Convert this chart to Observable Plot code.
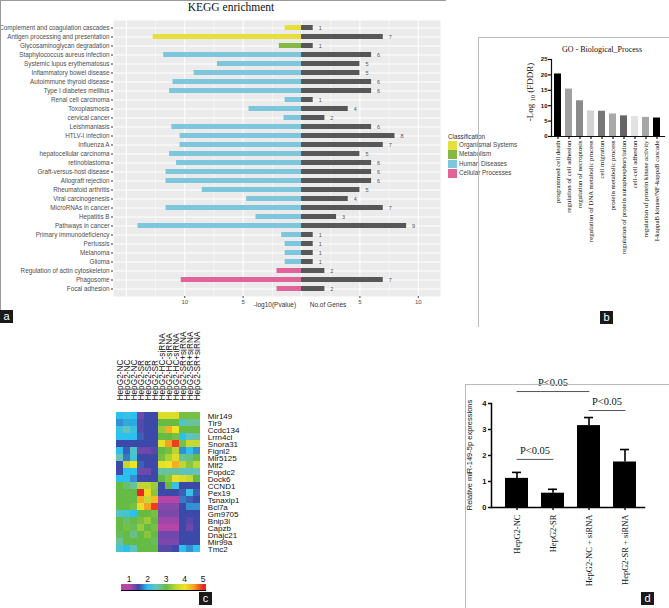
<!DOCTYPE html>
<html><head><meta charset="utf-8">
<script src="https://cdn.jsdelivr.net/npm/d3@7"></script>
<script src="https://cdn.jsdelivr.net/npm/@observablehq/plot@0.6"></script>
<style>
body{margin:0;background:#fff;}
#fig{position:relative;width:669px;height:608px;overflow:hidden;font-family:Arial,"Liberation Sans",sans-serif;background:#fff;}
.abs{position:absolute;white-space:nowrap;}
.lab{position:absolute;background:#1a1a1a;color:#fff;font:11px Arial,"Liberation Sans",sans-serif;width:13px;height:13px;line-height:12px;text-align:center;}
.rot{position:absolute;white-space:nowrap;transform:translate(-50%,-50%) rotate(-90deg);}
</style></head><body><div id="fig"></div>
<script>
// ---------- Panel a: KEGG enrichment ----------
const keggTerms = ["Complement and coagulation cascades","Antigen processing and presentation","Glycosaminoglycan degradation","Staphylococcus aureus infection","Systemic lupus erythematosus","Inflammatory bowel disease","Autoimmune thyroid disease","Type I diabetes mellitus","Renal cell carcinoma","Toxoplasmosis","cervical cancer","Leishmaniasis","HTLV-I infection","Influenza A","hepatocellular carcinoma","retinoblastoma","Graft-versus-host disease","Allograft rejection","Rheumatoid arthritis","Viral carcinogenesis","MicroRNAs in cancer","Hepatitis B","Pathways in cancer","Primary immunodeficiency","Pertussis","Melanoma","Glioma","Regulation of actin cytoskeleton","Phagosome","Focal adhesion"];
const keggClass = ["Organismal Systems","Organismal Systems","Metabolism","Human Diseases","Human Diseases","Human Diseases","Human Diseases","Human Diseases","Human Diseases","Human Diseases","Human Diseases","Human Diseases","Human Diseases","Human Diseases","Human Diseases","Human Diseases","Human Diseases","Human Diseases","Human Diseases","Human Diseases","Human Diseases","Human Diseases","Human Diseases","Human Diseases","Human Diseases","Human Diseases","Human Diseases","Cellular Processes","Cellular Processes","Cellular Processes"];
const keggLogP = [1.4,12.7,1.9,11.8,7.2,9.2,11.0,11.3,1.4,4.5,1.5,11.1,10.4,10.4,11.3,10.7,11.6,11.6,8.5,4.7,11.6,3.9,14.0,1.7,1.4,1.4,1.4,2.1,10.3,2.1];
const keggGenes = [1,7,1,6,5,5,6,6,1,4,2,6,8,7,5,6,6,6,5,4,7,3,9,1,1,1,1,2,7,2];
const classNames = ["Organismal Systems","Metabolism","Human Diseases","Cellular Processes"];
const classColors = ["#e6e03c","#86b943","#7ec6db","#e0649a"];
const keggMajorTicks = [-15,-10,-5,0,5,10];
const keggMinorTicks = [-12.5,-7.5,-2.5,2.5,7.5];
const keggTickLabels = [-10,-5,5,10];

// ---------- Panel b: GO Biological Process ----------
const goTerms = ["programmed cell death","regulation of cell adhesion","regulation of necroptosis","regulation of DNA metabolic process","cell migration","protein metabolic process","regulation of protein autophosphorylation","cell-cell adhesion","regulation of protein kinase activity","I-kappaB kinase/NF-kappaB cascade"];
const goValues = [20.3,15.4,11.6,8.3,8.2,7.3,6.7,6.5,6.2,6.0];
const goColors = ["#000000","#a0a0a0","#8a8a8a","#d2d2d2","#777777","#a9a9a9","#646464","#e2e2e2","#a6a6a6","#000000"];
const goTicks = [0,5,10,15,20,25];

// ---------- Panel c: heatmap ----------
const heatCols = ["HepG2-NC","HepG2-NC","HepG2-NC","HepG2-SR","HepG2-SR","HepG2-SR","HepG2-HC-siRNA","HepG2-HC-siRNA","HepG2-HC-siRNA","HepG2-SR+siRNA","HepG2-SR+siRNA","HepG2-SR+siRNA"];
const heatGenes = ["Mir149","Tlr9","Ccdc134","Lrrn4cl","Snora31","Fignl2","Mir5125","Mlf2","Popdc2","Dock6","CCND1","Pex19","Tsnaxip1","Bcl7a","Gm9705","Bnip3l","Capzb","Dnajc21","Mir99a","Tmc2"];
const heatValues = [
  [2.0,2.1,2.0,1.3,1.5,1.5,3.8,3.8,3.8,3.1,3.1,3.1],
  [1.8,1.9,1.9,1.4,1.5,1.5,3.0,3.0,3.0,2.3,2.6,2.6],
  [2.1,2.5,2.1,1.4,1.5,1.5,3.3,4.4,4.0,3.0,3.0,3.0],
  [2.0,2.0,2.0,1.6,1.5,1.5,3.0,3.0,3.1,2.0,2.4,2.6],
  [1.5,1.5,1.5,1.5,1.5,1.5,3.9,4.5,4.9,3.1,3.6,3.6],
  [2.0,1.6,2.3,1.3,1.3,1.4,3.0,3.1,3.5,1.8,2.0,1.8],
  [2.5,1.7,2.2,1.5,1.5,1.5,3.1,3.4,3.8,2.6,2.7,3.0],
  [1.5,3.6,4.0,1.6,1.5,1.5,3.9,4.0,4.4,3.5,3.2,3.5],
  [1.5,2.0,2.0,1.3,1.3,1.5,2.6,2.6,2.6,2.4,2.4,2.5],
  [2.0,2.0,1.8,1.5,1.5,1.5,3.0,3.2,3.9,3.8,3.6,3.0],
  [3.0,2.8,2.6,3.5,3.5,3.3,1.5,3.0,2.1,1.5,1.5,1.5],
  [3.0,3.0,3.0,5.0,4.1,3.2,1.5,1.5,1.5,1.6,2.1,1.6],
  [3.0,3.0,3.0,4.4,3.6,4.3,1.0,1.0,1.0,1.7,1.6,1.5],
  [3.0,3.0,3.1,3.9,4.5,4.9,1.2,1.2,1.2,1.5,1.8,1.8],
  [2.3,2.2,2.0,3.0,3.0,3.1,1.25,1.25,1.25,1.5,1.5,1.5],
  [3.0,2.8,3.0,3.1,3.3,3.0,1.1,1.1,1.1,1.5,1.4,1.5],
  [3.0,3.1,2.9,3.3,3.0,3.1,1.0,1.0,1.0,1.5,1.3,1.5],
  [2.9,3.0,2.7,3.0,3.2,3.0,1.3,1.3,1.3,1.5,1.5,1.5],
  [2.6,3.0,3.0,3.0,3.0,2.9,1.25,1.25,1.25,1.5,1.5,1.5],
  [2.2,2.0,2.4,3.0,3.0,3.0,1.4,1.4,1.5,2.0,1.8,2.0]
];
const heatDomain = [1,1.25,1.5,2,2.5,3,3.5,4,4.5,5];
const heatRange = ["#b646a6","#7a48aa","#3d49a8","#2cc0ee","#68c4b2","#66bb44","#bdd633","#efe423","#f6a024","#e92623"];
const heatLegendTicks = [1,2,3,4,5];

// ---------- Panel d: miR-149-5p ----------
const dGroups = ["HepG2-NC","HepG2-SR","HepG2-NC + siRNA","HepG2-SR + siRNA"];
const dMeans = [1.12,0.55,3.15,1.75];
const dErrors = [0.23,0.15,0.31,0.48];
const dTicks = [0,1,2,3,4];
const dComparisons = [
  {a:"HepG2-NC", b:"HepG2-SR", mid:null, y:1.85, ty:2.18, label:"P<0.05"},
  {a:"HepG2-NC + siRNA", b:"HepG2-SR + siRNA", mid:null, y:3.73, ty:4.08, label:"P<0.05"},
  {a:"HepG2-NC", b:"HepG2-NC + siRNA", mid:"HepG2-SR", y:4.46, ty:4.8, label:"P<0.05"}
];

// ================= build =================
const fig = document.getElementById("fig");
function place(el, left, top) {
  const w = document.createElement("div");
  w.style.position = "absolute"; w.style.left = left + "px"; w.style.top = top + "px";
  w.appendChild(el); fig.appendChild(w); return w;
}
function html(str, css, cls = "abs") {
  const d = document.createElement("div");
  d.className = cls; d.innerHTML = str; d.style.cssText += css; fig.appendChild(d); return d;
}
const baseStyle = {background: "transparent", overflow: "visible"};

// Panel a
const keggData = keggTerms.map((t, i) => ({term: t, cls: keggClass[i], p: keggLogP[i], n: keggGenes[i]}));
const plotA = Plot.plot({
  width: 445, height: 320,
  marginLeft: 113, marginRight: 5, marginTop: 20, marginBottom: 24,
  style: {...baseStyle, fontFamily: "Arial, 'Liberation Sans', sans-serif", fontSize: "6.3px", color: "#4d4d4d"},
  x: {domain: [-16.1, 11.9]},
  y: {domain: keggTerms, paddingInner: 0.4, paddingOuter: 0.2},
  color: {domain: classNames, range: classColors},
  marks: [
    Plot.frame({fill: "#ebebeb", stroke: "none"}),
    Plot.gridX(keggMinorTicks, {stroke: "white", strokeOpacity: 1, strokeWidth: 0.5}),
    Plot.gridX(keggMajorTicks, {stroke: "white", strokeOpacity: 1, strokeWidth: 1}),
    Plot.gridY({stroke: "white", strokeOpacity: 1, strokeWidth: 1}),
    Plot.barX(keggData, {x: d => -d.p, y: "term", fill: "cls"}),
    Plot.barX(keggData, {x: "n", y: "term", fill: "#575757"}),
    Plot.text(keggData, {x: "n", y: "term", text: d => String(d.n), dx: 7, fill: "#555", fontSize: 5.5}),
    Plot.axisY({tickSize: 2, tickPadding: 2, fontSize: 6.3, label: null, stroke: "#333"}),
    Plot.axisX(keggTickLabels, {tickSize: 2, tickPadding: 1, tickFormat: d => Math.abs(d), fontSize: 6, label: null})
  ]
});
place(plotA, 0, 0);
html("KEGG enrichment", "left:231px;top:1px;transform:translateX(-50%);font:11.5px 'Liberation Serif','DejaVu Serif',serif;color:#111;");
html("-log10(Pvalue)", "left:275px;top:301px;transform:translateX(-50%);font:6.5px Arial,sans-serif;color:#333;");
html("No.of Genes", "left:328px;top:301px;transform:translateX(-50%);font:6.5px Arial,sans-serif;color:#333;");
html("Classification", "left:448px;top:133px;font:6.3px Arial,sans-serif;color:#333;");
classNames.forEach((c, i) => {
  html("", `left:448px;top:${141 + i * 9.4}px;width:9px;height:8.6px;background:${classColors[i]};`);
  html(c, `left:459px;top:${141 + i * 9.4}px;line-height:8.6px;font:6.3px Arial,sans-serif;color:#444;`);
});
html("", "left:0;top:0;width:446px;height:0;border-top:1px solid #9a9a9a;");
html("", "left:0;top:0;width:0;height:323px;border-left:1px solid #9a9a9a;");
html("a", "left:0px;top:310px;", "lab");

// Panel b
const goData = goTerms.map((t, i) => ({term: t, v: goValues[i], c: goColors[i]}));
const plotB = Plot.plot({
  width: 189, height: 290,
  marginLeft: 71, marginRight: 5, marginTop: 29, marginBottom: 184,
  style: {...baseStyle, fontFamily: "Arial, sans-serif", fontSize: "6px", color: "#111"},
  x: {domain: goTerms, paddingInner: 0.33, paddingOuter: 0.1},
  y: {domain: [0, 25]},
  color: {type: "identity"},
  marks: [
    Plot.barY(goData, {x: "term", y: "v", fill: "c"}),
    Plot.frame({anchor: "left", stroke: "#111", strokeWidth: 1.2}),
    Plot.frame({anchor: "bottom", stroke: "#111", strokeWidth: 1.2}),
    Plot.axisY(goTicks, {tickSize: 3, tickPadding: 1, fontWeight: "bold", fontSize: 6, label: null, strokeWidth: 1.2}),
    Plot.axisX({tickRotate: -90, tickSize: 3, tickPadding: 1, fontFamily: "'Liberation Serif', serif", fontSize: 6.8, label: null, strokeWidth: 1.2})
  ]
});
place(plotB, 480, 30);
html("GO - Biological_Process", "left:602px;top:45px;transform:translateX(-50%);font:8px 'Liberation Serif',serif;color:#111;");
html("-Log <span style='font-size:6.5px;position:relative;top:2px'>10</span> (FDDR)", "left:530px;top:92px;font:9px 'Liberation Serif',serif;color:#111;", "rot");
html("", "left:478px;top:37px;width:190px;height:289px;border-left:1px solid #bbb;border-top:1px solid #bbb;");
html("b", "left:600px;top:311px;", "lab");

// Panel c
const heatData = [];
heatGenes.forEach((g, r) => heatValues[r].forEach((v, c) => heatData.push({gene: g, col: c, v})));
const plotC = Plot.plot({
  width: 160, height: 245,
  marginLeft: 12.7, marginRight: 56.7, marginTop: 84, marginBottom: 6,
  style: {...baseStyle, fontFamily: "Arial, 'Liberation Sans', sans-serif", fontSize: "8px", color: "#111"},
  x: {domain: d3.range(heatCols.length), padding: 0},
  y: {domain: heatGenes, padding: 0},
  color: {type: "linear", domain: heatDomain, range: heatRange},
  marks: [
    Plot.cell(heatData, {x: "col", y: "gene", fill: "v"}),
    Plot.axisX({anchor: "top", tickRotate: -90, tickSize: 0, tickPadding: 4, tickFormat: i => heatCols[i], fontSize: 8.3, label: null}),
    Plot.axisY({anchor: "right", tickSize: 0, tickPadding: 4, fontSize: 8, label: null})
  ]
});
place(plotC, 100, 320);
// colour bar
const cbScale = d3.scaleLinear().domain([1, 5]).range([129, 203]);
const cbLo = 0.55, cbHi = 5.15;
const stops = heatDomain.map((d, i) => `${heatRange[i]} ${((d - cbLo) / (cbHi - cbLo) * 100).toFixed(1)}%`).join(",");
html("", `left:${cbScale(cbLo)}px;top:584px;width:${cbScale(cbHi) - cbScale(cbLo)}px;height:6px;background:linear-gradient(to right,${stops});border-bottom:1px solid #000;`);
heatLegendTicks.forEach(t => html(String(t), `left:${cbScale(t)}px;top:574px;transform:translateX(-50%);font:8.5px Arial,sans-serif;color:#111;`));
html("c", "left:199px;top:592px;", "lab");

// Panel d
const dData = dGroups.map((g, i) => ({g, v: dMeans[i], hi: dMeans[i] + dErrors[i]}));
const bracketPts = dComparisons.flatMap((c, i) => [{id: i, g: c.a, y: c.y}, {id: i, g: c.b, y: c.y}]);
const plotD = Plot.plot({
  width: 209, height: 228,
  marginLeft: 31, marginRight: 25, marginTop: 23, marginBottom: 101,
  style: {...baseStyle, fontFamily: "Arial, sans-serif", fontSize: "7.5px", color: "#111"},
  x: {domain: dGroups, paddingInner: 0.37, paddingOuter: 0.2, insetLeft: 5.7},
  y: {domain: [0, 4]},
  marks: [
    Plot.ruleX(dData, {x: "g", y1: "v", y2: "hi", stroke: "#000", strokeWidth: 1.6}),
    Plot.tickY(dData, {x: "g", y: "hi", inset: 7, stroke: "#000", strokeWidth: 1.6}),
    Plot.barY(dData, {x: "g", y: "v", fill: "#000"}),
    Plot.line(bracketPts, {x: "g", y: "y", z: "id", stroke: "#555", strokeWidth: 1}),
    Plot.text(dComparisons.filter(c => !c.mid), {x: "a", y: "ty", text: "label", dx: 18, fontFamily: "'Liberation Serif', serif", fontSize: 10.5, fill: "#111"}),
    Plot.text(dComparisons.filter(c => c.mid), {x: "mid", y: "ty", text: "label", fontFamily: "'Liberation Serif', serif", fontSize: 10.5, fill: "#111"}),
    Plot.frame({anchor: "left", stroke: "#000", strokeWidth: 1.5}),
    Plot.frame({anchor: "bottom", stroke: "#000", strokeWidth: 1.5}),
    Plot.axisY(dTicks, {tickSize: 3, tickPadding: 2, fontWeight: "bold", fontSize: 7.5, label: null, strokeWidth: 1.5}),
    Plot.axisX({tickRotate: -90, tickSize: 3, tickPadding: 4, fontFamily: "'Liberation Serif', serif", fontSize: 8.5, label: null, strokeWidth: 1.5})
  ]
});
place(plotD, 460, 380);
html("Relative miR-149-5p expressions", "left:469px;top:455px;font:7.5px Arial,sans-serif;color:#111;", "rot");
html("", "left:465px;top:384px;width:204px;height:224px;border-left:1px solid #bbb;border-top:1px solid #bbb;");
html("d", "left:641px;top:592px;", "lab");
</script></body></html>
